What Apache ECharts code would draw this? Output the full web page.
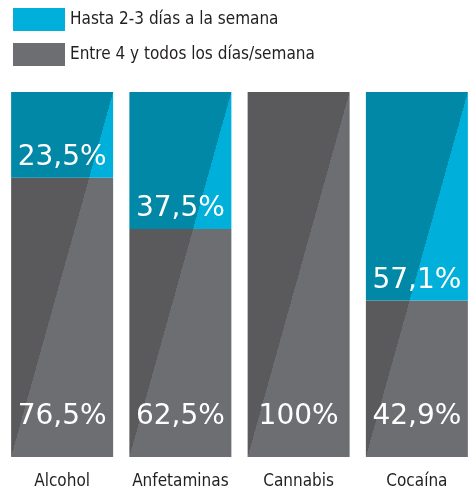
<!DOCTYPE html>
<html>
<head>
<meta charset="utf-8">
<script src="https://cdn.jsdelivr.net/npm/echarts@6/dist/echarts.min.js"></script>
<style>
  html, body { margin: 0; background: #fff; }
  #chart { width: 468px; height: 489px; }
</style>
</head>
<body>
<div id="chart"></div>
<script>
const categories = ['Alcohol', 'Anfetaminas', 'Cannabis', 'Cocaína'];
const seriesNames = ['Hasta 2-3 días a la semana', 'Entre 4 y todos los días/semana'];
const lowFreq = [23.5, 37.5, 0, 57.1];
const highFreq = [76.5, 62.5, 100, 42.9];

const BAR_W = 102;
const TEAL = { dark: '#0088a6', light: '#00b0da' };
const GREY = { dark: '#5a5a5c', light: '#6d6e72' };
const catFont = "'Liberation Sans Narrow', 'DejaVu Sans Condensed', sans-serif";

const chart = echarts.init(document.getElementById('chart'));

const fmt = (v) => (Number.isInteger(v) ? v : v.toFixed(1).replace('.', ',')) + '%';

const barLabel = (distance) => ({
  show: true,
  position: 'insideBottom',
  distance: distance,
  color: '#fff',
  fontFamily: 'DejaVu Sans',
  fontSize: 28,
  formatter: (p) => (p.value > 0 ? fmt(p.value) : '')
});

chart.setOption({
  animation: false,
  legend: {
    orient: 'vertical',
    left: 13,
    top: 8,
    padding: 0,
    itemWidth: 52,
    itemHeight: 23,
    itemGap: 12,
    icon: 'rect',
    data: seriesNames,
    textStyle: { color: '#231f20', fontSize: 17, fontFamily: catFont }
  },
  grid: { left: 3, right: -8, top: 92, bottom: 32, outerBoundsMode: 'none', containLabel: false },
  xAxis: {
    type: 'category',
    data: categories,
    axisLine: { show: false },
    axisTick: { show: false },
    axisLabel: { interval: 0, color: '#231f20', fontSize: 17, fontFamily: catFont, margin: 16 }
  },
  yAxis: { type: 'value', min: 0, max: 100, show: false, splitLine: { show: false } },
  series: [
    {
      name: seriesNames[1],
      type: 'bar',
      stack: 'total',
      barWidth: BAR_W,
      itemStyle: { color: GREY.light },
      label: barLabel(26),
      data: highFreq
    },
    {
      name: seriesNames[0],
      type: 'bar',
      stack: 'total',
      barWidth: BAR_W,
      itemStyle: { color: TEAL.light },
      label: barLabel(6),
      data: lowFreq
    }
  ]
});

// diagonal two-tone fill: dark left of the line from top-right to bottom-left corner
const splitFill = (idx, tone) => {
  const [cx, yb] = chart.convertToPixel({ seriesIndex: 0 }, [idx, 0]);
  const [, yt] = chart.convertToPixel({ seriesIndex: 0 }, [idx, 100]);
  const h = yb - yt;
  const len = Math.hypot(h, BAR_W);
  const nx = (h / len) * 200;
  const ny = (BAR_W / len) * 200;
  const cy = (yb + yt) / 2;
  return {
    type: 'linear',
    global: true,
    x: cx - nx, y: cy - ny, x2: cx + nx, y2: cy + ny,
    colorStops: [
      { offset: 0, color: tone.dark },
      { offset: 0.5, color: tone.dark },
      { offset: 0.5, color: tone.light },
      { offset: 1, color: tone.light }
    ]
  };
};

chart.setOption({
  series: [
    { data: highFreq.map((v, i) => ({ value: v, itemStyle: { color: splitFill(i, GREY) } })) },
    { data: lowFreq.map((v, i) => ({ value: v, itemStyle: { color: splitFill(i, TEAL) } })) }
  ]
});
</script>
</body>
</html>
